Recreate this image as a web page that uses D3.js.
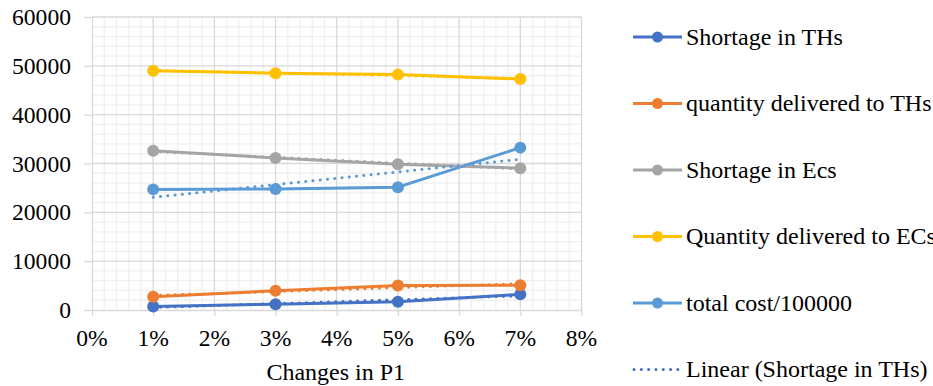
<!DOCTYPE html>
<html>
<head>
<meta charset="utf-8">
<script src="https://cdn.jsdelivr.net/npm/d3@7"></script>
</head>
<body style="margin:0">
<svg id="chart" width="933" height="386"></svg>
<script>
// Sensitivity of outcomes to changes in P1
const changes = [0.01, 0.03, 0.05, 0.07];
const shortageTHs = [700, 1200, 1700, 3200];
const deliveredTHs = [2700, 3950, 5000, 5050];
const shortageECs = [32600, 31150, 29850, 29050];
const deliveredECs = [49000, 48500, 48200, 47300];
const totalCost = [24700, 24800, 25150, 33250];

const seriesNames = ["Shortage in THs", "quantity delivered to THs", "Shortage in Ecs",
                     "Quantity delivered to ECs", "total cost/100000"];
const seriesValues = [shortageTHs, deliveredTHs, shortageECs, deliveredECs, totalCost];
const seriesColors = ["#4472C4", "#ED7D31", "#A5A5A5", "#FFC000", "#5B9BD5"];
const trendLabel = "Linear (Shortage in THs)";

const xTicks = [0, 0.01, 0.02, 0.03, 0.04, 0.05, 0.06, 0.07, 0.08];
const yTicks = [0, 10000, 20000, 30000, 40000, 50000, 60000];
const xTitle = "Changes in P1";

const svg = d3.select("#chart");
const plot = { left: 92, right: 581.5, top: 17, bottom: 310 };

const x = d3.scaleLinear().domain([0, 0.08]).range([plot.left, plot.right]);
const y = d3.scaleLinear().domain([0, 60000]).range([plot.bottom, plot.top]);

// helper for every label so they share one typeface
function label(sel, size = 24) {
  return sel.attr("font-family", "Liberation Serif").attr("font-size", size).attr("fill", "#000");
}

// minor grid
const g = svg.append("g");
const minorX = d3.range(0, 0.0801, 0.002).filter(v => Math.abs(v * 100 - Math.round(v * 100)) > 1e-6);
const minorY = d3.range(0, 60001, 2000).filter(v => v % 10000 !== 0);
g.selectAll(".mx").data(minorX).join("line")
  .attr("x1", d => x(d)).attr("x2", d => x(d))
  .attr("y1", plot.top).attr("y2", plot.bottom)
  .attr("stroke", "#F0F0F0").attr("stroke-width", 1.3);
g.selectAll(".my").data(minorY).join("line")
  .attr("x1", plot.left).attr("x2", plot.right)
  .attr("y1", d => y(d)).attr("y2", d => y(d))
  .attr("stroke", "#F0F0F0").attr("stroke-width", 1.3);

// major grid
g.selectAll(".Mx").data(xTicks.slice(1)).join("line")
  .attr("x1", d => x(d)).attr("x2", d => x(d))
  .attr("y1", plot.top).attr("y2", plot.bottom)
  .attr("stroke", "#D9D9D9").attr("stroke-width", 1.3);
g.selectAll(".My").data(yTicks.slice(1)).join("line")
  .attr("x1", plot.left).attr("x2", plot.right)
  .attr("y1", d => y(d)).attr("y2", d => y(d))
  .attr("stroke", "#D9D9D9").attr("stroke-width", 1.3);

// axes: lines from d3.axis, labels drawn as plain text
const xAxis = svg.append("g").attr("transform", `translate(0,${plot.bottom})`)
  .call(d3.axisBottom(x).tickValues(xTicks).tickFormat("").tickSizeInner(6).tickSizeOuter(0));
const yAxis = svg.append("g").attr("transform", `translate(${plot.left},0)`)
  .call(d3.axisLeft(y).tickValues(yTicks).tickFormat("").tickSizeInner(8).tickSizeOuter(0));
[xAxis, yAxis].forEach(a => {
  a.select(".domain").attr("stroke", "#D9D9D9").attr("stroke-width", 1.3);
  a.selectAll(".tick line").attr("stroke", "#D9D9D9").attr("stroke-width", 1.3);
  a.selectAll(".tick text").remove();
});
const pct = d3.format(".0%");
svg.append("g").selectAll("text").data(xTicks).join("text")
  .call(label, 23.6)
  .attr("x", d => x(d)).attr("y", plot.bottom + 36).attr("text-anchor", "middle")
  .text(d => pct(d));
svg.append("g").selectAll("text").data(yTicks).join("text")
  .call(label, 23.6)
  .attr("x", plot.left - 21).attr("y", d => y(d)).attr("dy", "0.34em").attr("text-anchor", "end")
  .text(d => String(d));

svg.append("text").call(label)
  .attr("x", x(0.04) - 1).attr("y", 380).attr("text-anchor", "middle").text(xTitle);

// series lines
const line = d3.line().x((d, i) => x(changes[i])).y(d => y(d));
seriesValues.forEach((vals, k) => {
  svg.append("path").datum(vals).attr("d", line).attr("fill", "none")
    .attr("stroke", seriesColors[k]).attr("stroke-width", 3).attr("stroke-linejoin", "round");
  svg.append("g").selectAll("circle").data(vals).join("circle")
    .attr("cx", (d, i) => x(changes[i])).attr("cy", d => y(d)).attr("r", 6)
    .attr("fill", seriesColors[k]);
});

// linear trendlines (least squares)
function fit(vals) {
  const mx = d3.mean(changes), my = d3.mean(vals);
  const sxy = d3.sum(changes, (c, i) => (c - mx) * (vals[i] - my));
  const sxx = d3.sum(changes, c => (c - mx) * (c - mx));
  const b = sxy / sxx, a = my - b * mx;
  return c => a + b * c;
}
seriesValues.forEach((vals, k) => {
  const f = fit(vals);
  const ends = [changes[0], changes[changes.length - 1]];
  svg.append("line")
    .attr("x1", x(ends[0])).attr("y1", y(f(ends[0])))
    .attr("x2", x(ends[1])).attr("y2", y(f(ends[1])))
    .attr("stroke", seriesColors[k]).attr("stroke-width", 3)
    .attr("stroke-linecap", "round").attr("stroke-dasharray", "0.1,7.2");
});

// legend
const legendY = [37, 103.5, 170, 236.5, 303, 369.5];
const leg = svg.append("g");
seriesNames.forEach((name, k) => {
  const row = leg.append("g").attr("transform", `translate(0,${legendY[k]})`);
  row.append("line").attr("x1", 633).attr("x2", 682).attr("y1", 0).attr("y2", 0)
    .attr("stroke", seriesColors[k]).attr("stroke-width", 3);
  row.append("circle").attr("cx", 657.5).attr("cy", 0).attr("r", 5.5).attr("fill", seriesColors[k]);
  row.append("text").call(label).attr("x", 686).attr("y", 0).attr("dy", "0.33em").text(name);
});
const trow = leg.append("g").attr("transform", `translate(0,${legendY[5]})`);
trow.append("line").attr("x1", 634).attr("x2", 682).attr("y1", 0).attr("y2", 0)
  .attr("stroke", seriesColors[0]).attr("stroke-width", 3)
  .attr("stroke-linecap", "round").attr("stroke-dasharray", "0.1,7.2");
trow.append("text").call(label).attr("x", 686).attr("y", 0).attr("dy", "0.33em").text(trendLabel);
</script>
</body>
</html>
